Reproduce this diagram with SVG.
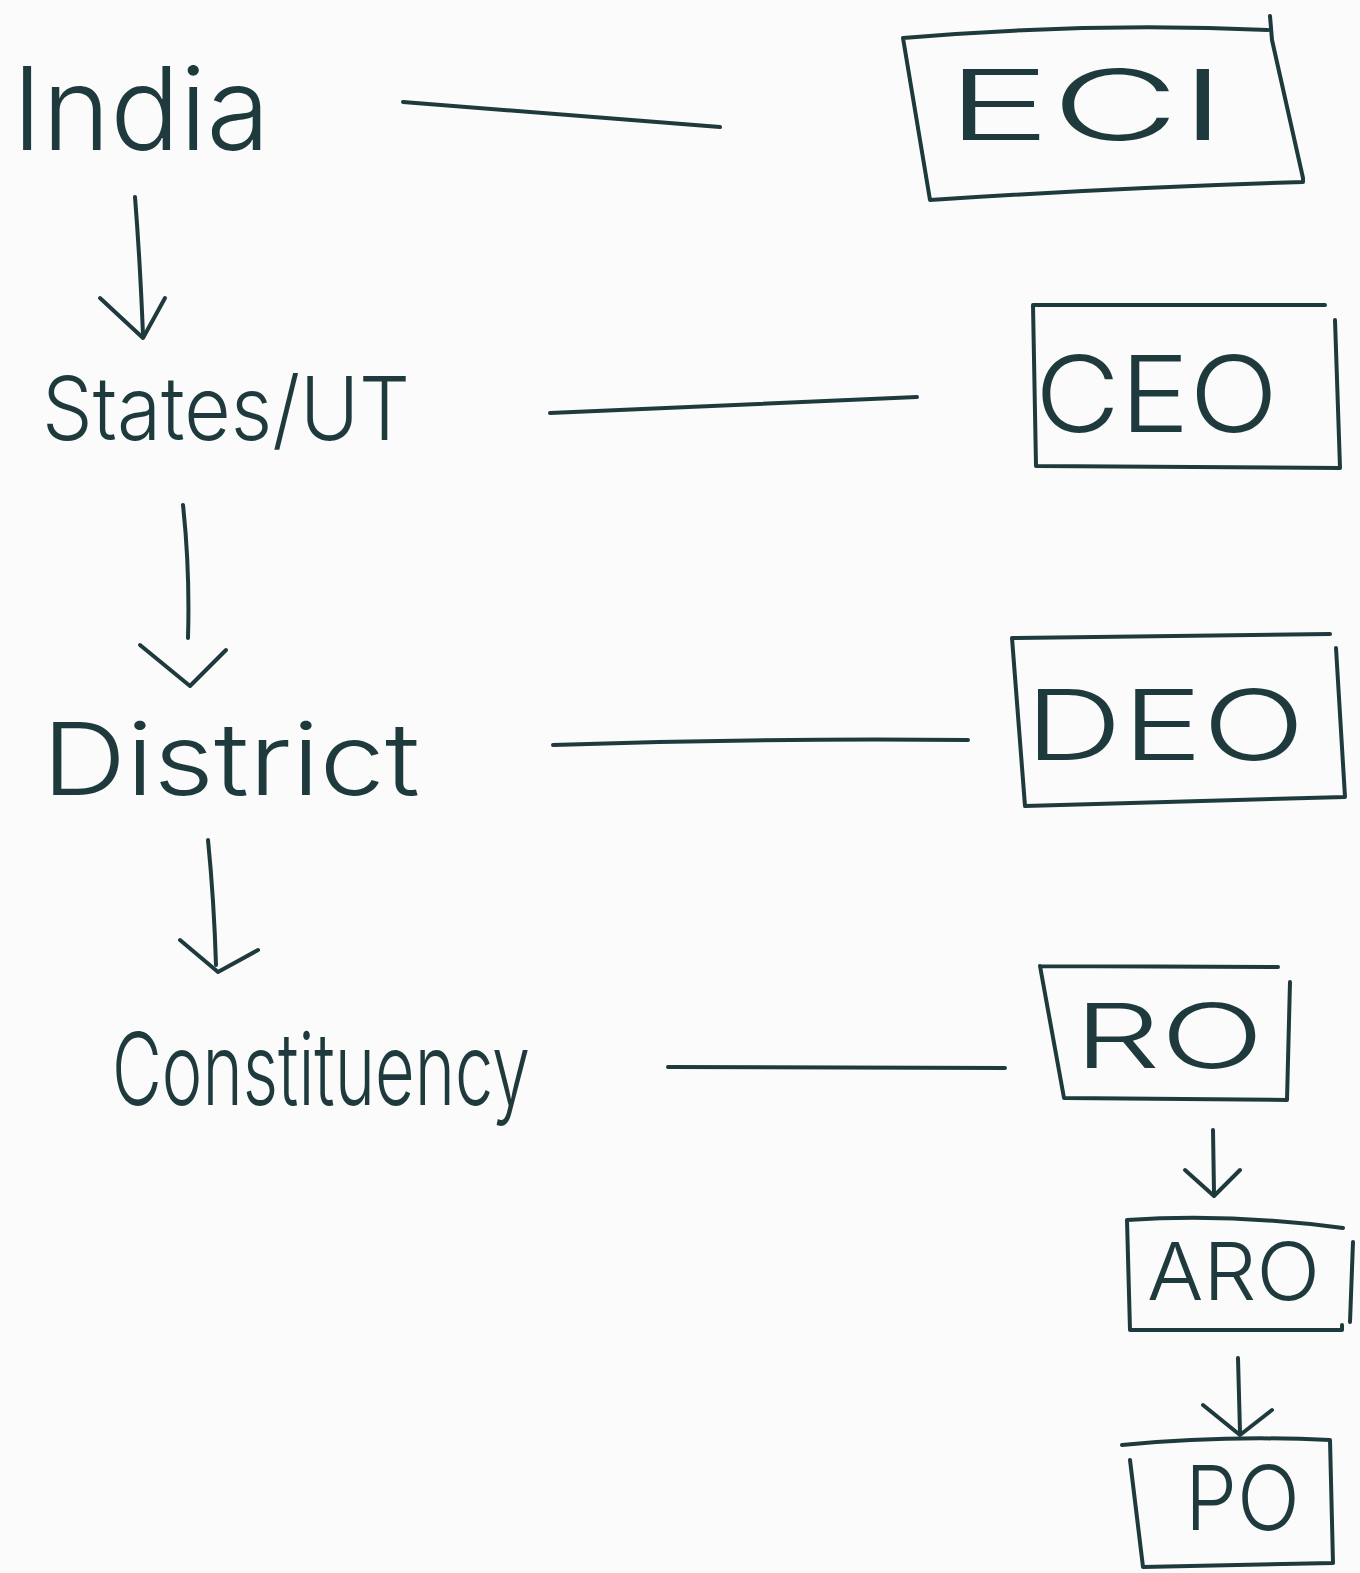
<svg xmlns="http://www.w3.org/2000/svg" width="1360" height="1573" viewBox="0 0 1360 1573">
<style>
.ink{fill:none;stroke:#1f3a3d;stroke-width:4;stroke-linecap:round;stroke-linejoin:round}
.lbl{font-family:Inter,"DejaVu Sans","Liberation Sans",sans-serif;font-weight:300;fill:#1f3a3d}
</style>
<rect width="1360" height="1573" fill="#fbfbfb"/>
<g id="connectors" class="ink">
<path d="M403,102 L720,127"/>
<path d="M550,413 Q730,405 917,397"/>
<path d="M553,745 Q760,738 968,740"/>
<path d="M668,1067 L1005,1068"/>
<path d="M135,197 Q140,260 143,335"/>
<path d="M100,298 L143,338 L165,298"/>
<path d="M183,505 Q190,570 188,638"/>
<path d="M140,645 L190,686 L226,650"/>
<path d="M208,840 Q214,900 216,965"/>
<path d="M180,940 L218,972 L258,950"/>
<path d="M1213,1130 L1214,1193"/>
<path d="M1185,1170 L1214,1196 L1240,1170"/>
<path d="M1238,1358 L1240,1432"/>
<path d="M1203,1405 L1240,1435 L1272,1410"/>
</g>
<g id="india"><text class="lbl" x="12" y="150" font-size="115" textLength="258" lengthAdjust="spacingAndGlyphs">India</text></g>
<g id="states"><text class="lbl" x="42" y="440" font-size="88" textLength="368" lengthAdjust="spacingAndGlyphs">States/UT</text></g>
<g id="district"><text class="lbl" x="42" y="795" font-size="100" textLength="378" lengthAdjust="spacingAndGlyphs">District</text></g>
<g id="constituency"><text class="lbl" x="112" y="1105" font-size="100" textLength="418" lengthAdjust="spacingAndGlyphs">Constituency</text></g>
<g id="eci">
<path class="ink" d="M903,38 Q1090,22 1268,30 M1270,16 L1272,40 L1303,178 L1303,182 Q1110,188 930,200 L903,38"/>
<text class="lbl" x="946" y="140" font-size="98" textLength="280" lengthAdjust="spacingAndGlyphs">ECI</text>
</g>
<g id="ceo">
<path class="ink" d="M1033,305 L1325,305 M1335,320 L1340,468 L1036,466 L1033,305"/>
<text class="lbl" x="1035" y="432" font-size="106" textLength="243" lengthAdjust="spacingAndGlyphs">CEO</text>
</g>
<g id="deo">
<path class="ink" d="M1012,638 L1330,634 M1336,648 L1345,797 L1025,806 L1012,638"/>
<text class="lbl" x="1025" y="760" font-size="98" textLength="280" lengthAdjust="spacingAndGlyphs">DEO</text>
</g>
<g id="ro">
<path class="ink" d="M1040,966 L1278,967 M1290,982 L1287,1100 L1064,1098 L1040,966"/>
<text class="lbl" x="1074" y="1068" font-size="90" textLength="190" lengthAdjust="spacingAndGlyphs">RO</text>
</g>
<g id="aro">
<path class="ink" d="M1127,1220 Q1230,1213 1343,1228 M1342,1325 L1342,1330 L1130,1330 L1127,1220 M1353,1242 L1350,1322"/>
<text class="lbl" x="1147" y="1300" font-size="80" textLength="173" lengthAdjust="spacingAndGlyphs">ARO</text>
</g>
<g id="po">
<path class="ink" d="M1122,1445 Q1225,1435 1330,1440 L1333,1563 L1143,1567 L1130,1460"/>
<text class="lbl" x="1185" y="1530" font-size="90" textLength="115" lengthAdjust="spacingAndGlyphs">PO</text>
</g>
</svg>
